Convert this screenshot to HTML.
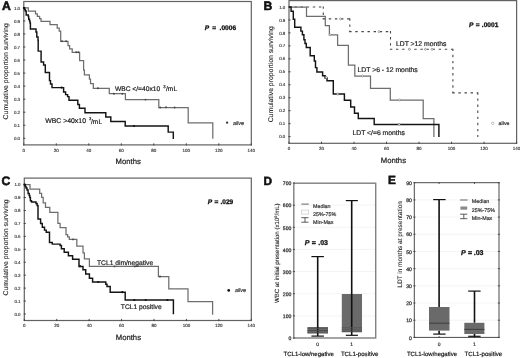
<!DOCTYPE html><html><head><meta charset="utf-8"><style>html,body{margin:0;padding:0;background:#fff;width:520px;height:358px;overflow:hidden}svg{display:block;will-change:transform}text{font-family:"Liberation Sans",sans-serif;text-rendering:geometricPrecision}</style></head><body>
<svg width="520" height="358" viewBox="0 0 520 358">
<rect width="520" height="358" fill="#fff"/>
<defs><filter id="bl" x="0" y="0" width="520" height="358" filterUnits="userSpaceOnUse" color-interpolation-filters="sRGB"><feGaussianBlur stdDeviation="0.4"/></filter></defs><g filter="url(#bl)"><rect width="520" height="358" fill="#fff"/>
<rect x="23.8" y="1.5" width="227.5" height="143.4" fill="none" stroke="#626262" stroke-width="1.2"/>
<line x1="23.2" y1="138.30" x2="25.400000000000002" y2="138.30" stroke="#3a3a3a" stroke-width="0.9"/>
<text x="20.1" y="139.9" font-size="4.45" text-anchor="end" font-weight="normal" font-style="normal" fill="#3a3a3a" stroke="#3a3a3a" stroke-width="0.15">0.0</text>
<line x1="23.2" y1="125.26" x2="25.400000000000002" y2="125.26" stroke="#3a3a3a" stroke-width="0.9"/>
<text x="20.1" y="126.86" font-size="4.45" text-anchor="end" font-weight="normal" font-style="normal" fill="#3a3a3a" stroke="#3a3a3a" stroke-width="0.15">0.1</text>
<line x1="23.2" y1="112.22" x2="25.400000000000002" y2="112.22" stroke="#3a3a3a" stroke-width="0.9"/>
<text x="20.1" y="113.82000000000001" font-size="4.45" text-anchor="end" font-weight="normal" font-style="normal" fill="#3a3a3a" stroke="#3a3a3a" stroke-width="0.15">0.2</text>
<line x1="23.2" y1="99.18" x2="25.400000000000002" y2="99.18" stroke="#3a3a3a" stroke-width="0.9"/>
<text x="20.1" y="100.78" font-size="4.45" text-anchor="end" font-weight="normal" font-style="normal" fill="#3a3a3a" stroke="#3a3a3a" stroke-width="0.15">0.3</text>
<line x1="23.2" y1="86.14" x2="25.400000000000002" y2="86.14" stroke="#3a3a3a" stroke-width="0.9"/>
<text x="20.1" y="87.74000000000001" font-size="4.45" text-anchor="end" font-weight="normal" font-style="normal" fill="#3a3a3a" stroke="#3a3a3a" stroke-width="0.15">0.4</text>
<line x1="23.2" y1="73.10" x2="25.400000000000002" y2="73.10" stroke="#3a3a3a" stroke-width="0.9"/>
<text x="20.1" y="74.7" font-size="4.45" text-anchor="end" font-weight="normal" font-style="normal" fill="#3a3a3a" stroke="#3a3a3a" stroke-width="0.15">0.5</text>
<line x1="23.2" y1="60.06" x2="25.400000000000002" y2="60.06" stroke="#3a3a3a" stroke-width="0.9"/>
<text x="20.1" y="61.66000000000002" font-size="4.45" text-anchor="end" font-weight="normal" font-style="normal" fill="#3a3a3a" stroke="#3a3a3a" stroke-width="0.15">0.6</text>
<line x1="23.2" y1="47.02" x2="25.400000000000002" y2="47.02" stroke="#3a3a3a" stroke-width="0.9"/>
<text x="20.1" y="48.62000000000001" font-size="4.45" text-anchor="end" font-weight="normal" font-style="normal" fill="#3a3a3a" stroke="#3a3a3a" stroke-width="0.15">0.7</text>
<line x1="23.2" y1="33.98" x2="25.400000000000002" y2="33.98" stroke="#3a3a3a" stroke-width="0.9"/>
<text x="20.1" y="35.580000000000005" font-size="4.45" text-anchor="end" font-weight="normal" font-style="normal" fill="#3a3a3a" stroke="#3a3a3a" stroke-width="0.15">0.8</text>
<line x1="23.2" y1="20.94" x2="25.400000000000002" y2="20.94" stroke="#3a3a3a" stroke-width="0.9"/>
<text x="20.1" y="22.54" font-size="4.45" text-anchor="end" font-weight="normal" font-style="normal" fill="#3a3a3a" stroke="#3a3a3a" stroke-width="0.15">0.9</text>
<line x1="23.2" y1="7.90" x2="25.400000000000002" y2="7.90" stroke="#3a3a3a" stroke-width="0.9"/>
<text x="20.1" y="9.500000000000005" font-size="4.45" text-anchor="end" font-weight="normal" font-style="normal" fill="#3a3a3a" stroke="#3a3a3a" stroke-width="0.15">1.0</text>
<line x1="23.80" y1="145.5" x2="23.80" y2="143.3" stroke="#3a3a3a" stroke-width="0.9"/>
<text x="23.8" y="151.8" font-size="4.5" text-anchor="middle" font-weight="normal" font-style="normal" fill="#3a3a3a" stroke="#3a3a3a" stroke-width="0.15">0</text>
<line x1="56.30" y1="145.5" x2="56.30" y2="143.3" stroke="#3a3a3a" stroke-width="0.9"/>
<text x="56.3" y="151.8" font-size="4.5" text-anchor="middle" font-weight="normal" font-style="normal" fill="#3a3a3a" stroke="#3a3a3a" stroke-width="0.15">20</text>
<line x1="88.80" y1="145.5" x2="88.80" y2="143.3" stroke="#3a3a3a" stroke-width="0.9"/>
<text x="88.8" y="151.8" font-size="4.5" text-anchor="middle" font-weight="normal" font-style="normal" fill="#3a3a3a" stroke="#3a3a3a" stroke-width="0.15">40</text>
<line x1="121.30" y1="145.5" x2="121.30" y2="143.3" stroke="#3a3a3a" stroke-width="0.9"/>
<text x="121.3" y="151.8" font-size="4.5" text-anchor="middle" font-weight="normal" font-style="normal" fill="#3a3a3a" stroke="#3a3a3a" stroke-width="0.15">60</text>
<line x1="153.80" y1="145.5" x2="153.80" y2="143.3" stroke="#3a3a3a" stroke-width="0.9"/>
<text x="153.8" y="151.8" font-size="4.5" text-anchor="middle" font-weight="normal" font-style="normal" fill="#3a3a3a" stroke="#3a3a3a" stroke-width="0.15">80</text>
<line x1="186.30" y1="145.5" x2="186.30" y2="143.3" stroke="#3a3a3a" stroke-width="0.9"/>
<text x="186.3" y="151.8" font-size="4.5" text-anchor="middle" font-weight="normal" font-style="normal" fill="#3a3a3a" stroke="#3a3a3a" stroke-width="0.15">100</text>
<line x1="218.80" y1="145.5" x2="218.80" y2="143.3" stroke="#3a3a3a" stroke-width="0.9"/>
<text x="218.8" y="151.8" font-size="4.5" text-anchor="middle" font-weight="normal" font-style="normal" fill="#3a3a3a" stroke="#3a3a3a" stroke-width="0.15">120</text>
<line x1="251.30" y1="145.5" x2="251.30" y2="143.3" stroke="#3a3a3a" stroke-width="0.9"/>
<text x="251.3" y="151.8" font-size="4.5" text-anchor="middle" font-weight="normal" font-style="normal" fill="#3a3a3a" stroke="#3a3a3a" stroke-width="0.15">140</text>
<text x="128.2" y="164.0" font-size="7.7" text-anchor="middle" font-weight="normal" font-style="normal" fill="#1a1a1a" stroke="#1a1a1a" stroke-width="0.2">Months</text>
<text x="2.0" y="9.5" font-size="12.2" text-anchor="start" font-weight="bold" font-style="normal" fill="#111" stroke="#111" stroke-width="0.55">A</text>
<text x="7.9" y="71.35" font-size="6.86" text-anchor="middle" font-weight="normal" font-style="normal" fill="#222" stroke="#222" stroke-width="0.1" transform="rotate(-90 7.9 71.35)">Cumulative proportion surviving</text>
<path d="M23.8 7.8 H28.3 V11.2 H35.5 V13.9 H37.3 V16.4 H39.6 V18.6 H41 V21.3 H50 V24.6 H57.2 V28 H59.2 V31 H60.7 V41.3 H68 V45.5 H69.6 V48.8 H72.2 V52.3 H79.6 V60.7 H83.6 V70 H84.4 V74.9 H89.4 V79 H90.5 V83.5 H93.3 V88.3 H109.3 V93.7 H125.4 V99.6 H158.8 V107.5 H188.2 V122.9 H212.8 V138.8" fill="none" stroke="#6e6e6e" stroke-width="1.25" stroke-linejoin="miter" stroke-linecap="butt"/>
<path d="M23.8 7.9 H24.6 V9.5 H25.3 V11 H26.2 V15 H28.3 V16.5 H28.7 V19.2 H29.5 V21 H30 V23 H30.4 V29 H36 V32 H36.8 V37 H38 V40.2 H38.2 V51.1 H41.1 V62 H43.6 V65 H45.3 V72.5 H49.5 V80.6 H50.5 V84 H52 V87.6 H63.6 V92 H65.6 V94.6 H67.6 V96.6 H69 V100.3 H77.8 V104.4 H79.4 V108.2 H85 V112.8 H105.8 V117 H110.8 V121.4 H125.2 V126 H168.2 V132.1 H173.3 V139" fill="none" stroke="#141414" stroke-width="1.45" stroke-linejoin="miter" stroke-linecap="butt"/>
<circle cx="62" cy="41.3" r="0.95" fill="#444"/>
<circle cx="66.1" cy="41.3" r="0.95" fill="#444"/>
<circle cx="76.2" cy="52.3" r="0.95" fill="#444"/>
<circle cx="78.4" cy="52.3" r="0.95" fill="#444"/>
<circle cx="97.9" cy="88.3" r="0.95" fill="#444"/>
<circle cx="113.9" cy="93.7" r="0.95" fill="#444"/>
<circle cx="122.3" cy="93.7" r="0.95" fill="#444"/>
<circle cx="145.5" cy="99.6" r="0.95" fill="#444"/>
<circle cx="160.2" cy="107.5" r="0.95" fill="#444"/>
<circle cx="166" cy="107.3" r="0.95" fill="#444"/>
<circle cx="174.6" cy="107.5" r="0.95" fill="#444"/>
<circle cx="61.6" cy="87.6" r="1.1" fill="#111"/>
<circle cx="134" cy="126" r="1.1" fill="#111"/>
<circle cx="23.9" cy="7.9" r="1.1" fill="#111"/>
<text x="204.8" y="29.5" font-size="6.6" text-anchor="start" font-weight="bold" font-style="italic" fill="#111" stroke="#111" stroke-width="0.3">P</text>
<text x="212.2" y="29.5" font-size="6.6" text-anchor="start" font-weight="bold" font-style="normal" fill="#111" stroke="#111" stroke-width="0.3">=</text>
<text x="219.6" y="29.5" font-size="6.6" text-anchor="start" font-weight="bold" font-style="normal" fill="#111" stroke="#111" stroke-width="0.3">.0006</text>
<text x="114.9" y="91.3" font-size="6.7" text-anchor="start" font-weight="normal" font-style="normal" fill="#1a1a1a" stroke="#1a1a1a" stroke-width="0.2">WBC &lt;/=40x10</text>
<text x="163.2" y="88.2" font-size="4.2" text-anchor="start" font-weight="normal" font-style="normal" fill="#1a1a1a" stroke="#1a1a1a" stroke-width="0.2">3</text>
<text x="166" y="91.3" font-size="6.7" text-anchor="start" font-weight="normal" font-style="normal" fill="#1a1a1a" stroke="#1a1a1a" stroke-width="0.2">/mL</text>
<text x="45.2" y="123.4" font-size="6.9" text-anchor="start" font-weight="normal" font-style="normal" fill="#1a1a1a" stroke="#1a1a1a" stroke-width="0.2">WBC &gt;40x10</text>
<text x="88.9" y="120.3" font-size="4.2" text-anchor="start" font-weight="normal" font-style="normal" fill="#1a1a1a" stroke="#1a1a1a" stroke-width="0.2">3</text>
<text x="91" y="123.6" font-size="6.7" text-anchor="start" font-weight="normal" font-style="normal" fill="#1a1a1a" stroke="#1a1a1a" stroke-width="0.2">/mL</text>
<circle cx="227.1" cy="122.7" r="1.15" fill="#333"/>
<text x="232.9" y="124.5" font-size="5.4" text-anchor="start" font-weight="normal" font-style="italic" fill="#333" stroke="#333" stroke-width="0.2">alive</text>
<rect x="289.0" y="0.6" width="227.60000000000002" height="142.70000000000002" fill="none" stroke="#626262" stroke-width="1.2"/>
<line x1="288.4" y1="136.60" x2="290.6" y2="136.60" stroke="#3a3a3a" stroke-width="0.9"/>
<text x="285.3" y="138.2" font-size="4.45" text-anchor="end" font-weight="normal" font-style="normal" fill="#3a3a3a" stroke="#3a3a3a" stroke-width="0.15">0.0</text>
<line x1="288.4" y1="123.64" x2="290.6" y2="123.64" stroke="#3a3a3a" stroke-width="0.9"/>
<text x="285.3" y="125.23999999999998" font-size="4.45" text-anchor="end" font-weight="normal" font-style="normal" fill="#3a3a3a" stroke="#3a3a3a" stroke-width="0.15">0.1</text>
<line x1="288.4" y1="110.68" x2="290.6" y2="110.68" stroke="#3a3a3a" stroke-width="0.9"/>
<text x="285.3" y="112.27999999999999" font-size="4.45" text-anchor="end" font-weight="normal" font-style="normal" fill="#3a3a3a" stroke="#3a3a3a" stroke-width="0.15">0.2</text>
<line x1="288.4" y1="97.72" x2="290.6" y2="97.72" stroke="#3a3a3a" stroke-width="0.9"/>
<text x="285.3" y="99.32" font-size="4.45" text-anchor="end" font-weight="normal" font-style="normal" fill="#3a3a3a" stroke="#3a3a3a" stroke-width="0.15">0.3</text>
<line x1="288.4" y1="84.76" x2="290.6" y2="84.76" stroke="#3a3a3a" stroke-width="0.9"/>
<text x="285.3" y="86.35999999999999" font-size="4.45" text-anchor="end" font-weight="normal" font-style="normal" fill="#3a3a3a" stroke="#3a3a3a" stroke-width="0.15">0.4</text>
<line x1="288.4" y1="71.80" x2="290.6" y2="71.80" stroke="#3a3a3a" stroke-width="0.9"/>
<text x="285.3" y="73.39999999999999" font-size="4.45" text-anchor="end" font-weight="normal" font-style="normal" fill="#3a3a3a" stroke="#3a3a3a" stroke-width="0.15">0.5</text>
<line x1="288.4" y1="58.84" x2="290.6" y2="58.84" stroke="#3a3a3a" stroke-width="0.9"/>
<text x="285.3" y="60.440000000000005" font-size="4.45" text-anchor="end" font-weight="normal" font-style="normal" fill="#3a3a3a" stroke="#3a3a3a" stroke-width="0.15">0.6</text>
<line x1="288.4" y1="45.88" x2="290.6" y2="45.88" stroke="#3a3a3a" stroke-width="0.9"/>
<text x="285.3" y="47.48000000000001" font-size="4.45" text-anchor="end" font-weight="normal" font-style="normal" fill="#3a3a3a" stroke="#3a3a3a" stroke-width="0.15">0.7</text>
<line x1="288.4" y1="32.92" x2="290.6" y2="32.92" stroke="#3a3a3a" stroke-width="0.9"/>
<text x="285.3" y="34.51999999999999" font-size="4.45" text-anchor="end" font-weight="normal" font-style="normal" fill="#3a3a3a" stroke="#3a3a3a" stroke-width="0.15">0.8</text>
<line x1="288.4" y1="19.96" x2="290.6" y2="19.96" stroke="#3a3a3a" stroke-width="0.9"/>
<text x="285.3" y="21.559999999999995" font-size="4.45" text-anchor="end" font-weight="normal" font-style="normal" fill="#3a3a3a" stroke="#3a3a3a" stroke-width="0.15">0.9</text>
<line x1="288.4" y1="7.00" x2="290.6" y2="7.00" stroke="#3a3a3a" stroke-width="0.9"/>
<text x="285.3" y="8.6" font-size="4.45" text-anchor="end" font-weight="normal" font-style="normal" fill="#3a3a3a" stroke="#3a3a3a" stroke-width="0.15">1.0</text>
<line x1="289.00" y1="143.9" x2="289.00" y2="141.70000000000002" stroke="#3a3a3a" stroke-width="0.9"/>
<text x="289.0" y="150.20000000000002" font-size="4.5" text-anchor="middle" font-weight="normal" font-style="normal" fill="#3a3a3a" stroke="#3a3a3a" stroke-width="0.15">0</text>
<line x1="321.51" y1="143.9" x2="321.51" y2="141.70000000000002" stroke="#3a3a3a" stroke-width="0.9"/>
<text x="321.51428571428573" y="150.20000000000002" font-size="4.5" text-anchor="middle" font-weight="normal" font-style="normal" fill="#3a3a3a" stroke="#3a3a3a" stroke-width="0.15">20</text>
<line x1="354.03" y1="143.9" x2="354.03" y2="141.70000000000002" stroke="#3a3a3a" stroke-width="0.9"/>
<text x="354.02857142857147" y="150.20000000000002" font-size="4.5" text-anchor="middle" font-weight="normal" font-style="normal" fill="#3a3a3a" stroke="#3a3a3a" stroke-width="0.15">40</text>
<line x1="386.54" y1="143.9" x2="386.54" y2="141.70000000000002" stroke="#3a3a3a" stroke-width="0.9"/>
<text x="386.54285714285714" y="150.20000000000002" font-size="4.5" text-anchor="middle" font-weight="normal" font-style="normal" fill="#3a3a3a" stroke="#3a3a3a" stroke-width="0.15">60</text>
<line x1="419.06" y1="143.9" x2="419.06" y2="141.70000000000002" stroke="#3a3a3a" stroke-width="0.9"/>
<text x="419.0571428571429" y="150.20000000000002" font-size="4.5" text-anchor="middle" font-weight="normal" font-style="normal" fill="#3a3a3a" stroke="#3a3a3a" stroke-width="0.15">80</text>
<line x1="451.57" y1="143.9" x2="451.57" y2="141.70000000000002" stroke="#3a3a3a" stroke-width="0.9"/>
<text x="451.57142857142856" y="150.20000000000002" font-size="4.5" text-anchor="middle" font-weight="normal" font-style="normal" fill="#3a3a3a" stroke="#3a3a3a" stroke-width="0.15">100</text>
<line x1="484.09" y1="143.9" x2="484.09" y2="141.70000000000002" stroke="#3a3a3a" stroke-width="0.9"/>
<text x="484.0857142857143" y="150.20000000000002" font-size="4.5" text-anchor="middle" font-weight="normal" font-style="normal" fill="#3a3a3a" stroke="#3a3a3a" stroke-width="0.15">120</text>
<line x1="516.60" y1="143.9" x2="516.60" y2="141.70000000000002" stroke="#3a3a3a" stroke-width="0.9"/>
<text x="516.6" y="150.20000000000002" font-size="4.5" text-anchor="middle" font-weight="normal" font-style="normal" fill="#3a3a3a" stroke="#3a3a3a" stroke-width="0.15">140</text>
<text x="393.4" y="162.5" font-size="7.7" text-anchor="middle" font-weight="normal" font-style="normal" fill="#1a1a1a" stroke="#1a1a1a" stroke-width="0.2">Months</text>
<text x="263.6" y="9.6" font-size="12.2" text-anchor="start" font-weight="bold" font-style="normal" fill="#111" stroke="#111" stroke-width="0.55">B</text>
<text x="273.2" y="74.3" font-size="6.86" text-anchor="middle" font-weight="normal" font-style="normal" fill="#222" stroke="#222" stroke-width="0.1" transform="rotate(-90 273.2 74.3)">Cumulative proportion surviving</text>
<path d="M288.4 7 L323.3 7" fill="none" stroke="#464646" stroke-width="1.1" stroke-linejoin="miter" stroke-linecap="butt" stroke-dasharray="2.4 3.7"/>
<path d="M323.3 6.4 L323.3 18.9" fill="none" stroke="#464646" stroke-width="1.1" stroke-linejoin="miter" stroke-linecap="butt" stroke-dasharray="2.4 3.7"/>
<path d="M322.7 18.9 L349.8 18.9" fill="none" stroke="#464646" stroke-width="1.1" stroke-linejoin="miter" stroke-linecap="butt" stroke-dasharray="2.4 3.7"/>
<path d="M349.8 18.299999999999997 L349.8 31.6" fill="none" stroke="#464646" stroke-width="1.1" stroke-linejoin="miter" stroke-linecap="butt" stroke-dasharray="2.4 3.7"/>
<path d="M349.2 31.6 L390.5 31.6" fill="none" stroke="#464646" stroke-width="1.1" stroke-linejoin="miter" stroke-linecap="butt" stroke-dasharray="2.4 3.7"/>
<path d="M390.5 31.0 L390.5 49.3" fill="none" stroke="#464646" stroke-width="1.1" stroke-linejoin="miter" stroke-linecap="butt" stroke-dasharray="2.4 3.7"/>
<path d="M389.9 49.3 L452.9 49.3" fill="none" stroke="#464646" stroke-width="1.1" stroke-linejoin="miter" stroke-linecap="butt" stroke-dasharray="2.4 3.7"/>
<path d="M452.9 48.699999999999996 L452.9 92.9" fill="none" stroke="#464646" stroke-width="1.1" stroke-linejoin="miter" stroke-linecap="butt" stroke-dasharray="2.4 3.7"/>
<path d="M452.29999999999995 92.9 L477.8 92.9" fill="none" stroke="#464646" stroke-width="1.1" stroke-linejoin="miter" stroke-linecap="butt" stroke-dasharray="2.4 3.7"/>
<path d="M477.8 92.30000000000001 L477.8 137" fill="none" stroke="#464646" stroke-width="1.1" stroke-linejoin="miter" stroke-linecap="butt" stroke-dasharray="2.4 3.7"/>
<path d="M289 7 H306.5 V16.3 H325.3 V25.5 H329.4 V34.8 H337.6 V45.3 H348.4 V65.1 H354.8 V76 H370.5 V88.3 H390.3 V100 H423.2 V118.6 H433.9 V137" fill="none" stroke="#6e6e6e" stroke-width="1.25" stroke-linejoin="miter" stroke-linecap="butt"/>
<path d="M289 7 H291.1 V11.3 H293.3 V19.3 H294.7 V27.2 H300.9 V31.1 H302.4 V34.8 H303.9 V39.7 H305 V43.5 H306.3 V47.5 H310.2 V55.7 H314.3 V61 H315.5 V67.6 H316.9 V72 H322.6 V75.8 H325.1 V78 H327 V80.8 H333.3 V94 H344.4 V100.3 H350.7 V106.9 H354.5 V113.2 H358.3 V118.5 H374.2 V124.4 H438.9 V137" fill="none" stroke="#141414" stroke-width="1.45" stroke-linejoin="miter" stroke-linecap="butt"/>
<circle cx="326.2" cy="77.5" r="1.0" fill="#fff" stroke="#666" stroke-width="0.6"/>
<circle cx="337.7" cy="94" r="1.0" fill="#fff" stroke="#666" stroke-width="0.6"/>
<circle cx="399.1" cy="124.4" r="1.0" fill="#fff" stroke="#666" stroke-width="0.6"/>
<circle cx="362.6" cy="76" r="1.0" fill="#fff" stroke="#777" stroke-width="0.6"/>
<circle cx="399.6" cy="100" r="1.0" fill="#fff" stroke="#777" stroke-width="0.6"/>
<circle cx="330" cy="34.8" r="1.0" fill="#fff" stroke="#777" stroke-width="0.6"/>
<circle cx="340.5" cy="18.9" r="1.0" fill="#fff" stroke="#777" stroke-width="0.6"/>
<circle cx="378.9" cy="31.6" r="1.0" fill="#fff" stroke="#777" stroke-width="0.6"/>
<circle cx="409.4" cy="49.3" r="1.0" fill="#fff" stroke="#777" stroke-width="0.6"/>
<circle cx="425.4" cy="49.3" r="1.0" fill="#fff" stroke="#777" stroke-width="0.6"/>
<circle cx="432" cy="49.3" r="1.0" fill="#fff" stroke="#777" stroke-width="0.6"/>
<text x="468.9" y="27.0" font-size="6.6" text-anchor="start" font-weight="bold" font-style="italic" fill="#111" stroke="#111" stroke-width="0.3">P</text>
<text x="475.8" y="27.0" font-size="6.6" text-anchor="start" font-weight="bold" font-style="normal" fill="#111" stroke="#111" stroke-width="0.3">=</text>
<text x="481.8" y="27.0" font-size="6.6" text-anchor="start" font-weight="bold" font-style="normal" fill="#111" stroke="#111" stroke-width="0.3">.0001</text>
<text x="396" y="46.0" font-size="6.8" text-anchor="start" font-weight="normal" font-style="normal" fill="#1a1a1a" stroke="#1a1a1a" stroke-width="0.2">LDT &gt;12 months</text>
<text x="357.6" y="71.8" font-size="6.8" text-anchor="start" font-weight="normal" font-style="normal" fill="#1a1a1a" stroke="#1a1a1a" stroke-width="0.2">LDT &gt;6 - 12 months</text>
<text x="352.5" y="135.2" font-size="6.8" text-anchor="start" font-weight="normal" font-style="normal" fill="#1a1a1a" stroke="#1a1a1a" stroke-width="0.2">LDT &lt;/=6 months</text>
<circle cx="492.7" cy="123.3" r="1.25" fill="#fff" stroke="#999" stroke-width="0.6"/>
<text x="498.6" y="124.9" font-size="5.3" text-anchor="start" font-weight="normal" font-style="normal" fill="#333" stroke="#333" stroke-width="0.2">alive</text>
<rect x="24.3" y="178.1" width="227.0" height="142.4" fill="none" stroke="#626262" stroke-width="1.2"/>
<line x1="23.7" y1="314.00" x2="25.900000000000002" y2="314.00" stroke="#3a3a3a" stroke-width="0.9"/>
<text x="20.6" y="315.6" font-size="4.45" text-anchor="end" font-weight="normal" font-style="normal" fill="#3a3a3a" stroke="#3a3a3a" stroke-width="0.15">0.0</text>
<line x1="23.7" y1="301.06" x2="25.900000000000002" y2="301.06" stroke="#3a3a3a" stroke-width="0.9"/>
<text x="20.6" y="302.66" font-size="4.45" text-anchor="end" font-weight="normal" font-style="normal" fill="#3a3a3a" stroke="#3a3a3a" stroke-width="0.15">0.1</text>
<line x1="23.7" y1="288.12" x2="25.900000000000002" y2="288.12" stroke="#3a3a3a" stroke-width="0.9"/>
<text x="20.6" y="289.72" font-size="4.45" text-anchor="end" font-weight="normal" font-style="normal" fill="#3a3a3a" stroke="#3a3a3a" stroke-width="0.15">0.2</text>
<line x1="23.7" y1="275.18" x2="25.900000000000002" y2="275.18" stroke="#3a3a3a" stroke-width="0.9"/>
<text x="20.6" y="276.78000000000003" font-size="4.45" text-anchor="end" font-weight="normal" font-style="normal" fill="#3a3a3a" stroke="#3a3a3a" stroke-width="0.15">0.3</text>
<line x1="23.7" y1="262.24" x2="25.900000000000002" y2="262.24" stroke="#3a3a3a" stroke-width="0.9"/>
<text x="20.6" y="263.84000000000003" font-size="4.45" text-anchor="end" font-weight="normal" font-style="normal" fill="#3a3a3a" stroke="#3a3a3a" stroke-width="0.15">0.4</text>
<line x1="23.7" y1="249.30" x2="25.900000000000002" y2="249.30" stroke="#3a3a3a" stroke-width="0.9"/>
<text x="20.6" y="250.9" font-size="4.45" text-anchor="end" font-weight="normal" font-style="normal" fill="#3a3a3a" stroke="#3a3a3a" stroke-width="0.15">0.5</text>
<line x1="23.7" y1="236.36" x2="25.900000000000002" y2="236.36" stroke="#3a3a3a" stroke-width="0.9"/>
<text x="20.6" y="237.96" font-size="4.45" text-anchor="end" font-weight="normal" font-style="normal" fill="#3a3a3a" stroke="#3a3a3a" stroke-width="0.15">0.6</text>
<line x1="23.7" y1="223.42" x2="25.900000000000002" y2="223.42" stroke="#3a3a3a" stroke-width="0.9"/>
<text x="20.6" y="225.02" font-size="4.45" text-anchor="end" font-weight="normal" font-style="normal" fill="#3a3a3a" stroke="#3a3a3a" stroke-width="0.15">0.7</text>
<line x1="23.7" y1="210.48" x2="25.900000000000002" y2="210.48" stroke="#3a3a3a" stroke-width="0.9"/>
<text x="20.6" y="212.07999999999998" font-size="4.45" text-anchor="end" font-weight="normal" font-style="normal" fill="#3a3a3a" stroke="#3a3a3a" stroke-width="0.15">0.8</text>
<line x1="23.7" y1="197.54" x2="25.900000000000002" y2="197.54" stroke="#3a3a3a" stroke-width="0.9"/>
<text x="20.6" y="199.14" font-size="4.45" text-anchor="end" font-weight="normal" font-style="normal" fill="#3a3a3a" stroke="#3a3a3a" stroke-width="0.15">0.9</text>
<line x1="23.7" y1="184.60" x2="25.900000000000002" y2="184.60" stroke="#3a3a3a" stroke-width="0.9"/>
<text x="20.6" y="186.2" font-size="4.45" text-anchor="end" font-weight="normal" font-style="normal" fill="#3a3a3a" stroke="#3a3a3a" stroke-width="0.15">1.0</text>
<line x1="24.30" y1="321.1" x2="24.30" y2="318.9" stroke="#3a3a3a" stroke-width="0.9"/>
<text x="24.3" y="327.4" font-size="4.5" text-anchor="middle" font-weight="normal" font-style="normal" fill="#3a3a3a" stroke="#3a3a3a" stroke-width="0.15">0</text>
<line x1="56.73" y1="321.1" x2="56.73" y2="318.9" stroke="#3a3a3a" stroke-width="0.9"/>
<text x="56.72857142857143" y="327.4" font-size="4.5" text-anchor="middle" font-weight="normal" font-style="normal" fill="#3a3a3a" stroke="#3a3a3a" stroke-width="0.15">20</text>
<line x1="89.16" y1="321.1" x2="89.16" y2="318.9" stroke="#3a3a3a" stroke-width="0.9"/>
<text x="89.15714285714286" y="327.4" font-size="4.5" text-anchor="middle" font-weight="normal" font-style="normal" fill="#3a3a3a" stroke="#3a3a3a" stroke-width="0.15">40</text>
<line x1="121.59" y1="321.1" x2="121.59" y2="318.9" stroke="#3a3a3a" stroke-width="0.9"/>
<text x="121.58571428571429" y="327.4" font-size="4.5" text-anchor="middle" font-weight="normal" font-style="normal" fill="#3a3a3a" stroke="#3a3a3a" stroke-width="0.15">60</text>
<line x1="154.01" y1="321.1" x2="154.01" y2="318.9" stroke="#3a3a3a" stroke-width="0.9"/>
<text x="154.01428571428573" y="327.4" font-size="4.5" text-anchor="middle" font-weight="normal" font-style="normal" fill="#3a3a3a" stroke="#3a3a3a" stroke-width="0.15">80</text>
<line x1="186.44" y1="321.1" x2="186.44" y2="318.9" stroke="#3a3a3a" stroke-width="0.9"/>
<text x="186.44285714285715" y="327.4" font-size="4.5" text-anchor="middle" font-weight="normal" font-style="normal" fill="#3a3a3a" stroke="#3a3a3a" stroke-width="0.15">100</text>
<line x1="218.87" y1="321.1" x2="218.87" y2="318.9" stroke="#3a3a3a" stroke-width="0.9"/>
<text x="218.8714285714286" y="327.4" font-size="4.5" text-anchor="middle" font-weight="normal" font-style="normal" fill="#3a3a3a" stroke="#3a3a3a" stroke-width="0.15">120</text>
<line x1="251.30" y1="321.1" x2="251.30" y2="318.9" stroke="#3a3a3a" stroke-width="0.9"/>
<text x="251.3" y="327.4" font-size="4.5" text-anchor="middle" font-weight="normal" font-style="normal" fill="#3a3a3a" stroke="#3a3a3a" stroke-width="0.15">140</text>
<text x="128.4" y="340.1" font-size="7.7" text-anchor="middle" font-weight="normal" font-style="normal" fill="#1a1a1a" stroke="#1a1a1a" stroke-width="0.2">Months</text>
<text x="1.4" y="184.5" font-size="12.2" text-anchor="start" font-weight="bold" font-style="normal" fill="#111" stroke="#111" stroke-width="0.55">C</text>
<text x="7.9" y="247.5" font-size="6.86" text-anchor="middle" font-weight="normal" font-style="normal" fill="#222" stroke="#222" stroke-width="0.1" transform="rotate(-90 7.9 247.5)">Cumulative proportion surviving</text>
<path d="M24.3 184.5 H30 V189.2 H39.7 V193.4 H41.6 V197.3 H43.2 V202.9 H45.5 V207.4 H49.8 V212.4 H57.9 V223.4 H60.1 V227.7 H66 V234.5 H67.6 V236.8 H69.3 V239.4 H76.8 V246 H83 V252.9 H84.4 V258.9 H89.4 V266.4 H158.4 V276.5 H168.8 V288.8 H188 V301.6 H212.6 V314.8" fill="none" stroke="#6e6e6e" stroke-width="1.25" stroke-linejoin="miter" stroke-linecap="butt"/>
<path d="M24.3 184.5 H25.2 V186.5 H26 V188 H27 V190 H28.1 V193.4 H29.2 V195.5 H29.8 V197.5 H30.4 V200.8 H31.5 V202 H36 V203.5 H37.1 V205.5 H38 V219 H40.6 V223.4 H42.3 V227.3 H44.5 V230.1 H46.2 V232.3 H49.5 V242.4 H52.3 V244.1 H60.1 V245.5 H61.4 V248.7 H64.2 V252.2 H68.4 V255.7 H72.6 V259.2 H79 V266.5 H83 V269.7 H85.7 V273.9 H89.4 V278.3 H92.6 V282 H105.8 V284.2 H107 V286.4 H110.2 V292.2 H125.2 V300 H173.4 V314.3" fill="none" stroke="#141414" stroke-width="1.45" stroke-linejoin="miter" stroke-linecap="butt"/>
<circle cx="73" cy="239.4" r="0.95" fill="#444"/>
<circle cx="114.5" cy="266.4" r="0.95" fill="#444"/>
<circle cx="134.8" cy="266.4" r="0.95" fill="#444"/>
<circle cx="160" cy="276.5" r="0.95" fill="#444"/>
<circle cx="80" cy="266.2" r="1.1" fill="#111"/>
<circle cx="98.2" cy="282" r="1.1" fill="#111"/>
<circle cx="122.3" cy="292.2" r="1.1" fill="#111"/>
<circle cx="134.3" cy="300" r="1.1" fill="#111"/>
<circle cx="145.7" cy="300" r="1.1" fill="#111"/>
<circle cx="167.4" cy="300" r="1.1" fill="#111"/>
<circle cx="24.4" cy="184.6" r="1.1" fill="#111"/>
<text x="207.7" y="204.2" font-size="6.6" text-anchor="start" font-weight="bold" font-style="italic" fill="#111" stroke="#111" stroke-width="0.3">P</text>
<text x="214.4" y="204.2" font-size="6.6" text-anchor="start" font-weight="bold" font-style="normal" fill="#111" stroke="#111" stroke-width="0.3">=</text>
<text x="220.4" y="204.2" font-size="6.6" text-anchor="start" font-weight="bold" font-style="normal" fill="#111" stroke="#111" stroke-width="0.3">.029</text>
<text x="97" y="264.8" font-size="6.7" text-anchor="start" font-weight="normal" font-style="normal" fill="#1a1a1a" stroke="#1a1a1a" stroke-width="0.2">TCL1 dim/negative</text>
<text x="120.8" y="308.6" font-size="6.7" text-anchor="start" font-weight="normal" font-style="normal" fill="#1a1a1a" stroke="#1a1a1a" stroke-width="0.2">TCL1 positive</text>
<circle cx="228.7" cy="290.4" r="1.35" fill="#111"/>
<text x="234.9" y="292.1" font-size="5.4" text-anchor="start" font-weight="normal" font-style="italic" fill="#333" stroke="#333" stroke-width="0.2">alive</text>
<line x1="293.8" y1="315.86" x2="375.7" y2="315.86" stroke="#ececec" stroke-width="0.6"/>
<line x1="293.8" y1="293.72" x2="375.7" y2="293.72" stroke="#ececec" stroke-width="0.6"/>
<line x1="293.8" y1="271.58" x2="375.7" y2="271.58" stroke="#ececec" stroke-width="0.6"/>
<line x1="293.8" y1="249.44" x2="375.7" y2="249.44" stroke="#ececec" stroke-width="0.6"/>
<line x1="293.8" y1="227.30" x2="375.7" y2="227.30" stroke="#ececec" stroke-width="0.6"/>
<line x1="293.8" y1="205.16" x2="375.7" y2="205.16" stroke="#ececec" stroke-width="0.6"/>
<rect x="293.8" y="183.2" width="81.89999999999998" height="154.8" fill="none" stroke="#828282" stroke-width="1.45"/>
<line x1="292.8" y1="338.00" x2="295.0" y2="338.00" stroke="#3a3a3a" stroke-width="0.8"/>
<text x="291.3" y="340.2" font-size="5.1" text-anchor="end" font-weight="normal" font-style="normal" fill="#333" stroke="#333" stroke-width="0.25">0</text>
<line x1="292.8" y1="315.86" x2="295.0" y2="315.86" stroke="#3a3a3a" stroke-width="0.8"/>
<text x="291.3" y="318.06" font-size="5.1" text-anchor="end" font-weight="normal" font-style="normal" fill="#333" stroke="#333" stroke-width="0.25">100</text>
<line x1="292.8" y1="293.72" x2="295.0" y2="293.72" stroke="#3a3a3a" stroke-width="0.8"/>
<text x="291.3" y="295.92" font-size="5.1" text-anchor="end" font-weight="normal" font-style="normal" fill="#333" stroke="#333" stroke-width="0.25">200</text>
<line x1="292.8" y1="271.58" x2="295.0" y2="271.58" stroke="#3a3a3a" stroke-width="0.8"/>
<text x="291.3" y="273.78" font-size="5.1" text-anchor="end" font-weight="normal" font-style="normal" fill="#333" stroke="#333" stroke-width="0.25">300</text>
<line x1="292.8" y1="249.44" x2="295.0" y2="249.44" stroke="#3a3a3a" stroke-width="0.8"/>
<text x="291.3" y="251.64" font-size="5.1" text-anchor="end" font-weight="normal" font-style="normal" fill="#333" stroke="#333" stroke-width="0.25">400</text>
<line x1="292.8" y1="227.30" x2="295.0" y2="227.30" stroke="#3a3a3a" stroke-width="0.8"/>
<text x="291.3" y="229.5" font-size="5.1" text-anchor="end" font-weight="normal" font-style="normal" fill="#333" stroke="#333" stroke-width="0.25">500</text>
<line x1="292.8" y1="205.16" x2="295.0" y2="205.16" stroke="#3a3a3a" stroke-width="0.8"/>
<text x="291.3" y="207.35999999999999" font-size="5.1" text-anchor="end" font-weight="normal" font-style="normal" fill="#333" stroke="#333" stroke-width="0.25">600</text>
<line x1="292.8" y1="183.02" x2="295.0" y2="183.02" stroke="#3a3a3a" stroke-width="0.8"/>
<text x="291.3" y="185.21999999999997" font-size="5.1" text-anchor="end" font-weight="normal" font-style="normal" fill="#333" stroke="#333" stroke-width="0.25">700</text>
<text x="263.6" y="184.8" font-size="11.8" text-anchor="start" font-weight="bold" font-style="normal" fill="#111" stroke="#111" stroke-width="0.55">D</text>
<line x1="414.3" y1="320.21" x2="499.0" y2="320.21" stroke="#ececec" stroke-width="0.6"/>
<line x1="414.3" y1="303.03" x2="499.0" y2="303.03" stroke="#ececec" stroke-width="0.6"/>
<line x1="414.3" y1="285.84" x2="499.0" y2="285.84" stroke="#ececec" stroke-width="0.6"/>
<line x1="414.3" y1="268.66" x2="499.0" y2="268.66" stroke="#ececec" stroke-width="0.6"/>
<line x1="414.3" y1="251.47" x2="499.0" y2="251.47" stroke="#ececec" stroke-width="0.6"/>
<line x1="414.3" y1="234.29" x2="499.0" y2="234.29" stroke="#ececec" stroke-width="0.6"/>
<line x1="414.3" y1="217.10" x2="499.0" y2="217.10" stroke="#ececec" stroke-width="0.6"/>
<line x1="414.3" y1="199.92" x2="499.0" y2="199.92" stroke="#ececec" stroke-width="0.6"/>
<rect x="414.3" y="182.7" width="84.69999999999999" height="154.7" fill="none" stroke="#4a4a4a" stroke-width="1.0"/>
<line x1="439.1" y1="182.2" x2="439.1" y2="184.0" stroke="#333" stroke-width="0.8"/>
<line x1="439.1" y1="337.9" x2="439.1" y2="336.09999999999997" stroke="#333" stroke-width="0.8"/>
<line x1="474.5" y1="182.2" x2="474.5" y2="184.0" stroke="#333" stroke-width="0.8"/>
<line x1="474.5" y1="337.9" x2="474.5" y2="336.09999999999997" stroke="#333" stroke-width="0.8"/>
<line x1="413.3" y1="337.40" x2="415.5" y2="337.40" stroke="#3a3a3a" stroke-width="0.8"/>
<line x1="497.8" y1="337.40" x2="500.0" y2="337.40" stroke="#3a3a3a" stroke-width="0.8"/>
<text x="411.8" y="339.59999999999997" font-size="5.1" text-anchor="end" font-weight="normal" font-style="normal" fill="#333" stroke="#333" stroke-width="0.25">0</text>
<line x1="413.3" y1="320.21" x2="415.5" y2="320.21" stroke="#3a3a3a" stroke-width="0.8"/>
<line x1="497.8" y1="320.21" x2="500.0" y2="320.21" stroke="#3a3a3a" stroke-width="0.8"/>
<text x="411.8" y="322.41499999999996" font-size="5.1" text-anchor="end" font-weight="normal" font-style="normal" fill="#333" stroke="#333" stroke-width="0.25">10</text>
<line x1="413.3" y1="303.03" x2="415.5" y2="303.03" stroke="#3a3a3a" stroke-width="0.8"/>
<line x1="497.8" y1="303.03" x2="500.0" y2="303.03" stroke="#3a3a3a" stroke-width="0.8"/>
<text x="411.8" y="305.22999999999996" font-size="5.1" text-anchor="end" font-weight="normal" font-style="normal" fill="#333" stroke="#333" stroke-width="0.25">20</text>
<line x1="413.3" y1="285.84" x2="415.5" y2="285.84" stroke="#3a3a3a" stroke-width="0.8"/>
<line x1="497.8" y1="285.84" x2="500.0" y2="285.84" stroke="#3a3a3a" stroke-width="0.8"/>
<text x="411.8" y="288.04499999999996" font-size="5.1" text-anchor="end" font-weight="normal" font-style="normal" fill="#333" stroke="#333" stroke-width="0.25">30</text>
<line x1="413.3" y1="268.66" x2="415.5" y2="268.66" stroke="#3a3a3a" stroke-width="0.8"/>
<line x1="497.8" y1="268.66" x2="500.0" y2="268.66" stroke="#3a3a3a" stroke-width="0.8"/>
<text x="411.8" y="270.85999999999996" font-size="5.1" text-anchor="end" font-weight="normal" font-style="normal" fill="#333" stroke="#333" stroke-width="0.25">40</text>
<line x1="413.3" y1="251.47" x2="415.5" y2="251.47" stroke="#3a3a3a" stroke-width="0.8"/>
<line x1="497.8" y1="251.47" x2="500.0" y2="251.47" stroke="#3a3a3a" stroke-width="0.8"/>
<text x="411.8" y="253.67499999999995" font-size="5.1" text-anchor="end" font-weight="normal" font-style="normal" fill="#333" stroke="#333" stroke-width="0.25">50</text>
<line x1="413.3" y1="234.29" x2="415.5" y2="234.29" stroke="#3a3a3a" stroke-width="0.8"/>
<line x1="497.8" y1="234.29" x2="500.0" y2="234.29" stroke="#3a3a3a" stroke-width="0.8"/>
<text x="411.8" y="236.48999999999995" font-size="5.1" text-anchor="end" font-weight="normal" font-style="normal" fill="#333" stroke="#333" stroke-width="0.25">60</text>
<line x1="413.3" y1="217.10" x2="415.5" y2="217.10" stroke="#3a3a3a" stroke-width="0.8"/>
<line x1="497.8" y1="217.10" x2="500.0" y2="217.10" stroke="#3a3a3a" stroke-width="0.8"/>
<text x="411.8" y="219.30499999999998" font-size="5.1" text-anchor="end" font-weight="normal" font-style="normal" fill="#333" stroke="#333" stroke-width="0.25">70</text>
<line x1="413.3" y1="199.92" x2="415.5" y2="199.92" stroke="#3a3a3a" stroke-width="0.8"/>
<line x1="497.8" y1="199.92" x2="500.0" y2="199.92" stroke="#3a3a3a" stroke-width="0.8"/>
<text x="411.8" y="202.11999999999998" font-size="5.1" text-anchor="end" font-weight="normal" font-style="normal" fill="#333" stroke="#333" stroke-width="0.25">80</text>
<line x1="413.3" y1="182.73" x2="415.5" y2="182.73" stroke="#3a3a3a" stroke-width="0.8"/>
<line x1="497.8" y1="182.73" x2="500.0" y2="182.73" stroke="#3a3a3a" stroke-width="0.8"/>
<text x="411.8" y="184.93499999999997" font-size="5.1" text-anchor="end" font-weight="normal" font-style="normal" fill="#333" stroke="#333" stroke-width="0.25">90</text>
<text x="388.0" y="184.4" font-size="11.8" text-anchor="start" font-weight="bold" font-style="normal" fill="#111" stroke="#111" stroke-width="0.55">E</text>
<rect x="307.4" y="327.0" width="20.600000000000023" height="6.600000000000023" fill="#6a6a6a"/>
<line x1="317.7" y1="256.6" x2="317.7" y2="336.1" stroke="#111" stroke-width="1.6"/>
<line x1="307.4" y1="328.4" x2="328.0" y2="328.4" stroke="#555" stroke-width="0.8"/>
<line x1="307.4" y1="332.4" x2="328.0" y2="332.4" stroke="#555" stroke-width="0.8"/>
<line x1="307.4" y1="330.5" x2="328.0" y2="330.5" stroke="#4a4a4a" stroke-width="1.0"/>
<line x1="311.4" y1="256.6" x2="323.9" y2="256.6" stroke="#111" stroke-width="1.2"/>
<line x1="311.4" y1="336.1" x2="323.9" y2="336.1" stroke="#111" stroke-width="1.2"/>
<rect x="341.8" y="294.0" width="20.19999999999999" height="38.30000000000001" fill="#6a6a6a"/>
<line x1="351.7" y1="200.6" x2="351.7" y2="335.3" stroke="#111" stroke-width="1.6"/>
<line x1="341.8" y1="329.8" x2="362.0" y2="329.8" stroke="#555" stroke-width="0.8"/>
<line x1="341.8" y1="331.4" x2="362.0" y2="331.4" stroke="#555" stroke-width="0.8"/>
<line x1="341.8" y1="327.8" x2="362.0" y2="327.8" stroke="#585858" stroke-width="1.0"/>
<line x1="345.8" y1="200.6" x2="357.9" y2="200.6" stroke="#111" stroke-width="1.2"/>
<line x1="345.8" y1="335.3" x2="357.9" y2="335.3" stroke="#111" stroke-width="1.2"/>
<line x1="439.1" y1="199.6" x2="439.1" y2="307.0" stroke="#111" stroke-width="1.6"/>
<line x1="439.1" y1="330.6" x2="439.1" y2="334.1" stroke="#111" stroke-width="1.6"/>
<rect x="429.0" y="307.0" width="20.5" height="23.600000000000023" fill="#6a6a6a"/>
<line x1="429.0" y1="323.2" x2="449.5" y2="323.2" stroke="#3e3e3e" stroke-width="1.0"/>
<line x1="433.2" y1="199.6" x2="445.6" y2="199.6" stroke="#111" stroke-width="1.2"/>
<line x1="433.2" y1="334.1" x2="445.6" y2="334.1" stroke="#111" stroke-width="1.2"/>
<line x1="474.5" y1="291.1" x2="474.5" y2="322.8" stroke="#111" stroke-width="1.6"/>
<line x1="474.5" y1="334.0" x2="474.5" y2="336.3" stroke="#111" stroke-width="1.6"/>
<rect x="464.3" y="322.8" width="20.099999999999966" height="11.199999999999989" fill="#6a6a6a"/>
<line x1="464.3" y1="329.4" x2="484.4" y2="329.4" stroke="#3e3e3e" stroke-width="1.0"/>
<line x1="468.2" y1="291.1" x2="480.6" y2="291.1" stroke="#111" stroke-width="1.2"/>
<line x1="468.2" y1="336.3" x2="480.6" y2="336.3" stroke="#111" stroke-width="1.2"/>
<text x="317.7" y="345.6" font-size="5.0" text-anchor="middle" font-weight="normal" font-style="normal" fill="#333" stroke="#333" stroke-width="0.2">0</text>
<text x="351.7" y="345.6" font-size="5.0" text-anchor="middle" font-weight="normal" font-style="normal" fill="#333" stroke="#333" stroke-width="0.2">1</text>
<text x="439.1" y="345.6" font-size="5.0" text-anchor="middle" font-weight="normal" font-style="normal" fill="#333" stroke="#333" stroke-width="0.2">0</text>
<text x="474.5" y="345.6" font-size="5.0" text-anchor="middle" font-weight="normal" font-style="normal" fill="#333" stroke="#333" stroke-width="0.2">1</text>
<text x="283.6" y="355.6" font-size="6.03" text-anchor="start" font-weight="normal" font-style="normal" fill="#1a1a1a" stroke="#1a1a1a" stroke-width="0.2">TCL1-low/negative</text>
<text x="340.9" y="355.6" font-size="6.1" text-anchor="start" font-weight="normal" font-style="normal" fill="#1a1a1a" stroke="#1a1a1a" stroke-width="0.2">TCL1-positive</text>
<text x="406.9" y="355.6" font-size="6.03" text-anchor="start" font-weight="normal" font-style="normal" fill="#1a1a1a" stroke="#1a1a1a" stroke-width="0.2">TCL1-low/negative</text>
<text x="464.6" y="355.6" font-size="6.1" text-anchor="start" font-weight="normal" font-style="normal" fill="#1a1a1a" stroke="#1a1a1a" stroke-width="0.2">TCL1-positive</text>
<text x="278.8" y="253.2" font-size="6.1" text-anchor="middle" font-weight="normal" font-style="normal" fill="#222" stroke="#222" stroke-width="0.08" transform="rotate(-90 278.8 253.2)">WBC at initial presentation (x10<tspan font-size="3.8" dy="-2.2">9</tspan><tspan dy="2.2">/mL)</tspan></text>
<text x="401.7" y="244.4" font-size="6.48" text-anchor="middle" font-weight="normal" font-style="normal" fill="#222" stroke="#222" stroke-width="0.08" transform="rotate(-90 401.7 244.4)">LDT in months at presentation</text>
<line x1="301.3" y1="204.1" x2="308.8" y2="204.1" stroke="#333" stroke-width="0.75"/>
<rect x="301.6" y="210.1" width="7" height="4" fill="none" stroke="#cfcfcf" stroke-width="0.8"/>
<path d="M301.3 217.70000000000002 H308.5 M305.0 217.70000000000002 V222.20000000000002 M301.3 222.20000000000002 H308.5" stroke="#333" stroke-width="0.8" fill="none"/>
<text x="313.0" y="207.5" font-size="5.35" text-anchor="start" font-weight="normal" font-style="normal" fill="#333" stroke="#333" stroke-width="0.2">Median</text>
<text x="313.0" y="215.5" font-size="5.35" text-anchor="start" font-weight="normal" font-style="normal" fill="#333" stroke="#333" stroke-width="0.2">25%-75%</text>
<text x="313.0" y="223.5" font-size="5.35" text-anchor="start" font-weight="normal" font-style="normal" fill="#333" stroke="#333" stroke-width="0.2">Min-Max</text>
<line x1="460.1" y1="200.0" x2="467.6" y2="200.0" stroke="#333" stroke-width="0.75"/>
<rect x="460.40000000000003" y="206.50000000000003" width="6.8" height="3.2" fill="#8a8a8a"/>
<path d="M460.1 214.20000000000002 H467.3 M463.8 214.20000000000002 V218.70000000000002 M460.1 218.70000000000002 H467.3" stroke="#333" stroke-width="0.8" fill="none"/>
<text x="471.8" y="203.4" font-size="5.35" text-anchor="start" font-weight="normal" font-style="normal" fill="#333" stroke="#333" stroke-width="0.2">Median</text>
<text x="471.8" y="211.70000000000002" font-size="5.35" text-anchor="start" font-weight="normal" font-style="normal" fill="#333" stroke="#333" stroke-width="0.2">25%-75%</text>
<text x="471.8" y="220.0" font-size="5.35" text-anchor="start" font-weight="normal" font-style="normal" fill="#333" stroke="#333" stroke-width="0.2">Min-Max</text>
<text x="304.7" y="245.2" font-size="7.0" text-anchor="start" font-weight="bold" font-style="italic" fill="#111" stroke="#111" stroke-width="0.3">P</text>
<text x="311.70000000000005" y="245.2" font-size="7.0" text-anchor="start" font-weight="bold" font-style="normal" fill="#111" stroke="#111" stroke-width="0.3">=</text>
<text x="318.2" y="245.2" font-size="7.0" text-anchor="start" font-weight="bold" font-style="normal" fill="#111" stroke="#111" stroke-width="0.3">.03</text>
<text x="461.0" y="255.2" font-size="7.0" text-anchor="start" font-weight="bold" font-style="italic" fill="#111" stroke="#111" stroke-width="0.3">P</text>
<text x="468.0" y="255.2" font-size="7.0" text-anchor="start" font-weight="bold" font-style="normal" fill="#111" stroke="#111" stroke-width="0.3">=</text>
<text x="473.7" y="255.2" font-size="7.0" text-anchor="start" font-weight="bold" font-style="normal" fill="#111" stroke="#111" stroke-width="0.3">.03</text>
</g>
</svg></body></html>
